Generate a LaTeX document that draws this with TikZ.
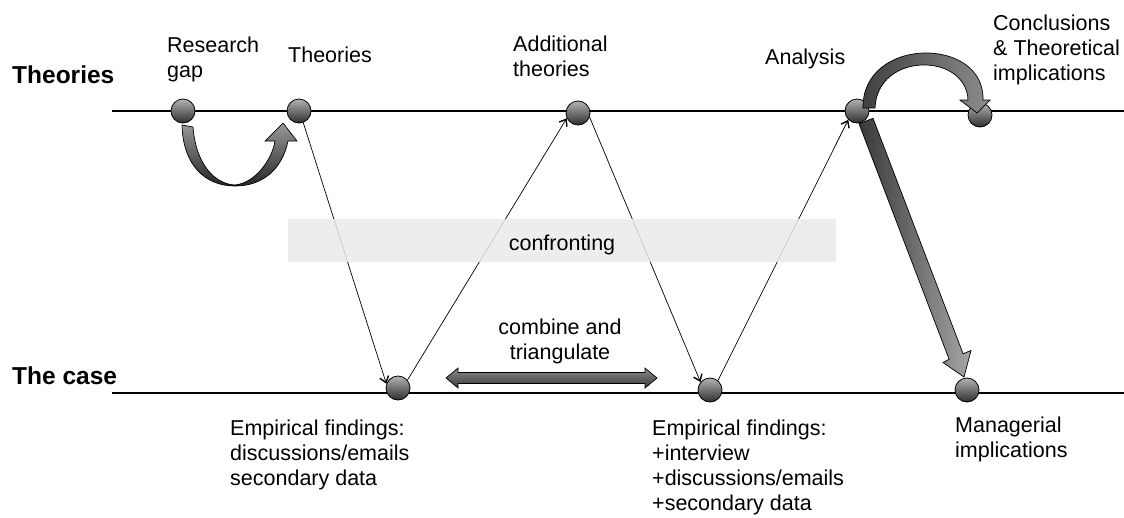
\documentclass[tikz,border=0pt]{standalone}
\usepackage{fontspec}
\setmainfont{Liberation Sans}
\usetikzlibrary{arrows.meta}
\begin{document}
\begin{tikzpicture}[x=1pt,y=-1pt,
  % multi-line labels: the base anchor sits on the last line
  lbl/.style={anchor=base west,inner sep=0pt,align=left,font=\fontsize{21.5}{25}\selectfont},
  clbl/.style={anchor=base,inner sep=0pt,align=center,font=\fontsize{21.5}{25}\selectfont},
  rowlbl/.style={anchor=base west,inner sep=0pt,font=\fontsize{24.5}{28}\selectfont\bfseries},
  axisline/.style={line width=2.6pt,black},
  ball/.style={circle,minimum size=24pt,inner sep=0pt,draw=black,line width=0.8pt,
               top color=black!30,bottom color=black!82},
  thinarrow/.style={line width=0.7pt,-{Straight Barb[length=6pt,width=9pt,line width=1.4pt]}},
  bigarrow/.style={draw=black,line width=0.7pt}
]
\useasboundingbox[fill=white] (0,0) rectangle (1124,517);

% the two levels
\draw[axisline] (112,111) -- (1124,111);
\draw[axisline] (112,393) -- (1124,393);

% stage markers
\node[ball] (rg) at (183,111) {};
\node[ball] (th) at (299,111) {};
\node[ball] (at) at (578,113) {};
\node[ball] (an) at (857,111) {};
\node[ball] (cc) at (980,115) {};
\node[ball] (e1) at (398,388) {};
\node[ball] (e2) at (710,390) {};
\node[ball] (mi) at (967,390) {};

% zig-zag between theory and case
\draw[thinarrow] (th.-70) -- (e1.160);
\draw[thinarrow] (e1.40) -- (at.-155);
\draw[thinarrow] (at.-20) -- (e2.140);
\draw[thinarrow] (e2.50) -- (an.-135);

% confronting band
\node[fill=black!8,fill opacity=0.85,minimum width=548pt,minimum height=43pt,inner sep=0pt]
  (band) at (562,240.5) {};
\node[clbl] (conf) at (562,250) {confronting};

% research gap -> theories
\path[bigarrow,top color=black!40,bottom color=black!85]
  (182,125) -- (193,127) .. controls (196,165) and (215,184) .. (235,185)
  .. controls (255,183) and (272,160) .. (275,141) -- (265,141) -- (283,123)
  -- (297,141) -- (288,141) .. controls (282,170) and (262,186) .. (235,186)
  .. controls (205,186) and (183,165) .. (182,125) -- cycle;

% analysis -> conclusions
\path[bigarrow,left color=black!75,right color=black!45]
  (863,108) .. controls (862,36) and (985,36) .. (983,100) -- (990,100) -- (977,113)
  -- (960,100) -- (968,100) .. controls (966,52) and (877,52) .. (875,108) -- cycle;

% analysis -> managerial implications
\path[bigarrow,left color=black!78,right color=black!35]
  (859,123.7) -- (873,118.3) -- (963.1,353.8) -- (971,350.5) -- (964,377)
  -- (943,362.5) -- (949.1,359.2) -- cycle;

% combine and triangulate
\path[bigarrow,top color=black!45,bottom color=black!78]
  (446,378) -- (458,368) -- (458,372.5) -- (645,372.5) -- (645,368) -- (657,378)
  -- (645,388) -- (645,383.5) -- (458,383.5) -- (458,388) -- cycle;
\node[clbl] (comb) at (560,359) {combine and\\triangulate};

% row titles
\node[rowlbl] (rowth) at (12,83) {Theories};
\node[rowlbl] (rowcase) at (12,384) {The case};

% stage labels
\node[lbl] (lrg) at (167,77) {Research\\gap};
\node[lbl] (lth) at (288,62) {Theories};
\node[lbl] (lat) at (513,76) {Additional\\theories};
\node[lbl] (lan) at (765,64) {Analysis};
\node[lbl] (lcc) at (993,80) {Conclusions\\\& Theoretical\\implications};
\node[lbl] (le1) at (230,485) {Empirical findings:\\discussions/emails\\secondary data};
\node[lbl] (le2) at (652,510) {Empirical findings:\\+interview\\+discussions/emails\\+secondary data};
\node[lbl] (lmi) at (955,457) {Managerial\\implications};
\end{tikzpicture}
\end{document}
